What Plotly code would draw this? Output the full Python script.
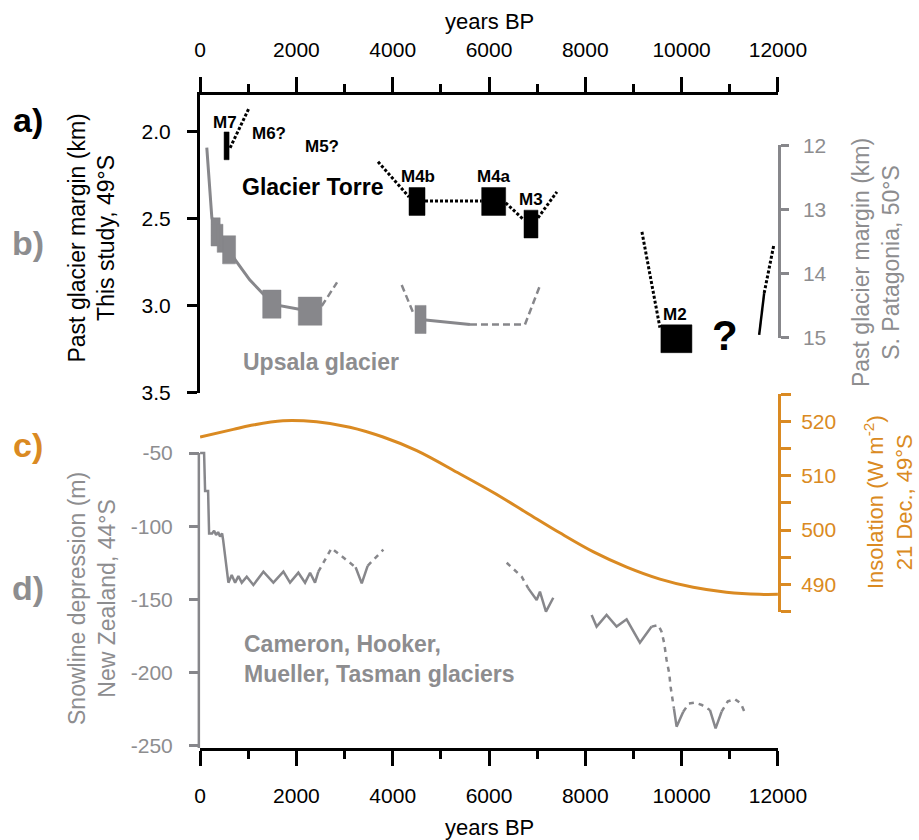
import plotly.graph_objects as go

# ---------------- data ----------------
# c) insolation, 21 Dec, 49S (read off the curve)
ins_age = [0, 690, 1040, 1720, 2420, 3110, 3800, 4500, 5400, 6090, 6780, 7470, 8170, 8860,
           9550, 10240, 10930, 11620, 12000]
ins_wm2 = [517.1, 518.5, 519.2, 520.1, 519.9, 518.9, 517.1, 514.6, 510.3, 506.9, 503.2, 499.5,
           496.0, 493.2, 491.0, 489.5, 488.6, 488.2, 488.2]

# a) Glacier Torre moraines (age centre, age half-range, margin km)
torre_age = [550, 4505, 6097, 6872, 9892]
torre_age_err = [52, 166, 249, 145, 322]
torre_km = [2.08, 2.40, 2.40, 2.53, 3.19]

# a) dotted connectors
torre_dot_age = [623, 1017, None, 3695, 4339, None, 4671, 5848, None, 6346, 6726, None,
                 7017, 7410, None, 9176, 9550, None, 11715, 11916]
torre_dot_km = [2.092, 1.862, None, 2.172, 2.374, None, 2.397, 2.397, None, 2.408, 2.506, None,
                2.494, 2.345, None, 2.575, 3.126, None, 2.927, 2.649]
torre_solid_age = [11611, 11715]
torre_solid_km = [3.167, 2.927]

# b) Upsala glacier (S. Patagonia, km)
upsala_age = [322, 415, 602, 1490, 2284, 4578]
upsala_age_err = [95, 60, 135, 190, 245, 115]
upsala_km = [13.35, 13.45, 13.63, 14.48, 14.59, 14.72]
upsala_line_age = [139, 243, 322, 415, 602, 741, 1030, 1310, 1490, 2284, None, 4578, 5605]
upsala_line_km = [12.03, 13.12, 13.35, 13.45, 13.63, 13.80, 14.10, 14.32, 14.48, 14.59, None, 14.72, 14.80]
upsala_dash_age = [2526, 2844, None, 4187, 4422, None, 5605, 6747, 7058]
upsala_dash_km = [14.51, 14.14, None, 14.18, 14.61, None, 14.80, 14.80, 14.19]

# d) snowline depression, New Zealand (m)
snow_solid_age = [0, 83, 104, 166, 187, 249, 291, 332, 374, 415, 457, 477, 588, 657, 727, 796, 865,
                  969, 1107, 1315, 1522, 1730, 1868, 2041, 2180, 2284, 2387, 2456, None,
                  3230, 3357, 3480, None,
                  6816, 6990, 7058, 7183, 7335, None,
                  8131, 8235, 8442, 8650, 8858, 9134, 9377, None,
                  9840, 9896, 10034, None,
                  10588, 10706, 10830]
snow_solid_m = [-50, -50, -76, -76, -105, -105, -103, -106, -104, -107, -105, -109, -138.5, -133.3,
                -138.5, -134, -138.5, -134.4, -140.1, -131, -138.5, -131, -138.5, -131.7, -138.5,
                -131.7, -138.5, -131, None,
                -128, -139, -127, None,
                -142.4, -150.3, -144.7, -158.3, -148.8, None,
                -160.6, -168.5, -160.6, -168.5, -163.5, -179.5, -168.5, None,
                -224.3, -236.8, -226.6, None,
                -225.4, -238, -226.6]
snow_dash_age = [2456, 2730, 3230, None, 3480, 3806, None, 6367, 6678, 6816, None,
                 9377, 9515, 9584, 9639, 9688, 9743, 9771, 9813, 9840, None,
                 10034, 10150, 10276, 10420, 10588, None,
                 10830, 10960, 11107, 11230, 11314]
snow_dash_m = [-131, -115, -128, None, -127, -116, None, -124.9, -134.4, -142.4, None,
               -168.5, -167.4, -172, -179.9, -191.3, -200.4, -209.5, -218.6, -224.3, None,
               -226.6, -221, -220.4, -222, -225.4, None,
               -226.6, -219.5, -218, -221, -227.3]

year_ticks = [0, 2000, 4000, 6000, 8000, 10000, 12000]
year_labels = ["0", "2000", "4000", "6000", "8000", "10000", "12000"]
torre_ticks = [2.0, 2.5, 3.0, 3.5]
torre_labels = ["2.0", "2.5", "3.0", "3.5"]
upsala_ticks = [12, 13, 14, 15]
upsala_labels = ["12", "13", "14", "15"]
snow_ticks = [-50, -100, -150, -200, -250]
snow_labels = ["-50", "-100", "-150", "-200", "-250"]
ins_ticks = [490, 500, 510, 520]
ins_labels = ["490", "500", "510", "520"]
ins_minor = [485, 495, 505, 515, 525]

# ---------------- styles ----------------
BLACK = "#000000"
GRAY = "#87878b"
GRAY_TXT = "#8d8d8f"
ORANGE = "#DA8A22"
FONT = "Liberation Sans, Arial, Helvetica, sans-serif"
TICK = 21


def rects(ages, errs, vals, half):
    xs, ys = [], []
    for a, e, v in zip(ages, errs, vals):
        xs += [a - e, a + e, a + e, a - e, a - e, None]
        ys += [v - half, v - half, v + half, v + half, v - half, None]
    return xs, ys


fig = go.Figure()

# insolation (c)
fig.add_trace(go.Scatter(x=ins_age, y=ins_wm2, mode="lines", xaxis="x", yaxis="y4",
                         line=dict(color=ORANGE, width=3, shape="spline", smoothing=1.0)))

# snowline (d)
fig.add_trace(go.Scatter(x=snow_solid_age, y=snow_solid_m, mode="lines", xaxis="x", yaxis="y3",
                         line=dict(color=GRAY, width=2.5), connectgaps=False))
fig.add_trace(go.Scatter(x=snow_dash_age, y=snow_dash_m, mode="lines", xaxis="x", yaxis="y3",
                         line=dict(color=GRAY, width=2.5, dash="5px,5px"), connectgaps=False))

# Upsala (b)
fig.add_trace(go.Scatter(x=upsala_line_age, y=upsala_line_km, mode="lines", xaxis="x2", yaxis="y2",
                         line=dict(color=GRAY, width=3), connectgaps=False))
fig.add_trace(go.Scatter(x=upsala_dash_age, y=upsala_dash_km, mode="lines", xaxis="x2", yaxis="y2",
                         line=dict(color=GRAY, width=2.5, dash="7px,4px"), connectgaps=False))
ux, uy = rects(upsala_age, upsala_age_err, upsala_km, 0.22)
fig.add_trace(go.Scatter(x=ux, y=uy, mode="lines", fill="toself", fillcolor=GRAY, xaxis="x2", yaxis="y2",
                         line=dict(color=GRAY, width=0.5), connectgaps=False))

# Torre (a)
fig.add_trace(go.Scatter(x=torre_dot_age, y=torre_dot_km, mode="lines", xaxis="x2", yaxis="y",
                         line=dict(color=BLACK, width=3, dash="3px,2px"), connectgaps=False))
fig.add_trace(go.Scatter(x=torre_solid_age, y=torre_solid_km, mode="lines", xaxis="x2", yaxis="y",
                         line=dict(color=BLACK, width=2.5)))
tx, ty = rects(torre_age, torre_age_err, torre_km, 0.08)
fig.add_trace(go.Scatter(x=tx, y=ty, mode="lines", fill="toself", fillcolor=BLACK, xaxis="x2", yaxis="y",
                         line=dict(color=BLACK, width=0.5), connectgaps=False))

# ---------------- axes ----------------
xcommon = dict(range=[-2, 12002], domain=[0, 1], showline=True, linewidth=3, linecolor=BLACK,
               ticks="outside", ticklen=15, tickwidth=3, tickcolor=BLACK,
               tickmode="array", tickvals=year_ticks, ticktext=year_labels,
               minor=dict(ticks="outside", ticklen=8, tickwidth=3, tickcolor=BLACK,
                          tickmode="linear", tick0=0, dtick=1000),
               showgrid=False, zeroline=False, tickfont=dict(size=TICK, color=BLACK),
               ticklabelstandoff=12, fixedrange=True)

fig.update_layout(
    width=919, height=840,
    margin=dict(l=200, r=141, t=95, b=92),
    paper_bgcolor="white", plot_bgcolor="rgba(0,0,0,0)",
    showlegend=False,
    font=dict(family=FONT, size=TICK, color=BLACK),
    xaxis=dict(xcommon, anchor="y3", side="bottom"),
    xaxis2=dict(xcommon, anchor="y", side="top"),
    yaxis=dict(domain=[0.54364, 1.0], range=[3.502, 1.7874], anchor="x2", side="left",
               showline=True, linewidth=3, linecolor=BLACK, ticks="outside", ticklen=10,
               tickwidth=3, tickcolor=BLACK, tickmode="array", tickvals=torre_ticks,
               ticktext=torre_labels, showgrid=False, zeroline=False,
               tickfont=dict(size=TICK, color=BLACK), ticklabelstandoff=12),
    yaxis2=dict(domain=[0.62787, 0.92343], range=[15.01, 11.99], anchor="x2", side="right",
                showline=True, linewidth=2.5, linecolor=GRAY, ticks="outside", ticklen=8,
                tickwidth=2.5, tickcolor=GRAY, tickmode="array", tickvals=upsala_ticks,
                ticktext=upsala_labels, showgrid=False, zeroline=False,
                tickfont=dict(size=TICK, color=GRAY_TXT), ticklabelstandoff=10),
    yaxis3=dict(domain=[0, 0.46073], range=[-251.37, -46], anchor="x", side="left",
                showline=False, ticks="outside", ticklen=10, tickwidth=2.5, tickcolor=GRAY,
                tickmode="array", tickvals=snow_ticks, ticktext=snow_labels,
                showgrid=False, zeroline=False,
                tickfont=dict(size=TICK, color=GRAY_TXT), ticklabelstandoff=12),
    yaxis4=dict(domain=[0.20827, 0.54249], range=[484.95, 525.05], anchor="x", side="right",
                showline=True, linewidth=3, linecolor=ORANGE, ticks="outside", ticklen=10,
                tickwidth=3, tickcolor=ORANGE, tickmode="array", tickvals=ins_ticks,
                ticktext=ins_labels,
                minor=dict(ticks="outside", ticklen=10, tickwidth=3, tickcolor=ORANGE,
                           tickmode="array", tickvals=ins_minor),
                showgrid=False, zeroline=False,
                tickfont=dict(size=TICK, color=ORANGE), ticklabelstandoff=6),
)

# axis line for snowline axis (bracket from -50 downward)
fig.add_shape(type="line", xref="paper", yref="y3", x0=-0.002, x1=-0.002, y0=-50, y1=-251.37,
              line=dict(color=GRAY, width=2.5))

# ---------------- text ----------------
ann = []


def txt(text, x, y, xref, yref, size, color, bold=False, angle=0, xanchor="center", align="center"):
    ann.append(dict(text=("<b>%s</b>" % text) if bold else text, x=x, y=y, xref=xref, yref=yref,
                    showarrow=False, textangle=angle, xanchor=xanchor, yanchor="middle",
                    align=align, font=dict(family=FONT, size=size, color=color)))


# axis titles
txt("years BP", 0.5, 1.1118, "paper", "paper", 22, BLACK)
txt("years BP", 0.5, -0.1225, "paper", "paper", 22, BLACK)
txt("Past glacier margin (km)<br>This study, 49°S", -0.1877, 0.781, "paper", "paper", 23, BLACK, angle=-90)
txt("Snowline depression (m)<br>New Zealand, 44°S", -0.1869, 0.2297, "paper", "paper", 23, GRAY_TXT, angle=-90)
txt("Past glacier margin (km)<br>S. Patagonia, 50°S", 1.1696, 0.7427, "paper", "paper", 23, GRAY_TXT, angle=-90)
txt("Insolation (W m<sup>-2</sup>)<br>21 Dec., 49°S", 1.1905, 0.3767, "paper", "paper", 22, ORANGE, angle=-90)

# panel letters
txt("a)", -0.2976, 0.9617, "paper", "paper", 34, BLACK, bold=True)
txt("b)", -0.2976, 0.7734, "paper", "paper", 34, GRAY_TXT, bold=True)
txt("c)", -0.2976, 0.4640, "paper", "paper", 34, ORANGE, bold=True)
txt("d)", -0.2976, 0.2450, "paper", "paper", 34, GRAY_TXT, bold=True)

# in-plot labels
txt("M7", 520, 1.943, "x2", "y", 17, BLACK, bold=True)
txt("M6?", 1422, 2.011, "x2", "y", 17, BLACK, bold=True)
txt("M5?", 2522, 2.086, "x2", "y", 17, BLACK, bold=True)
txt("Glacier Torre", 2336, 2.318, "x2", "y", 23, BLACK, bold=True)
txt("M4b", 4515, 2.259, "x2", "y", 17, BLACK, bold=True)
txt("M4a", 6103, 2.259, "x2", "y", 17, BLACK, bold=True)
txt("M3", 6872, 2.391, "x2", "y", 17, BLACK, bold=True)
txt("M2", 9871, 3.052, "x2", "y", 17, BLACK, bold=True)
txt("?", 10899, 3.172, "x2", "y", 42, BLACK, bold=True)
txt("Upsala glacier", 2512, 3.322, "x2", "y", 23, GRAY_TXT, bold=True)
txt("Cameron, Hooker,<br>Mueller, Tasman glaciers", 872, -190.6, "x", "y3", 23, GRAY_TXT,
    bold=True, xanchor="left", align="left")

fig.update_layout(annotations=ann)

fig.write_html("out.html")
